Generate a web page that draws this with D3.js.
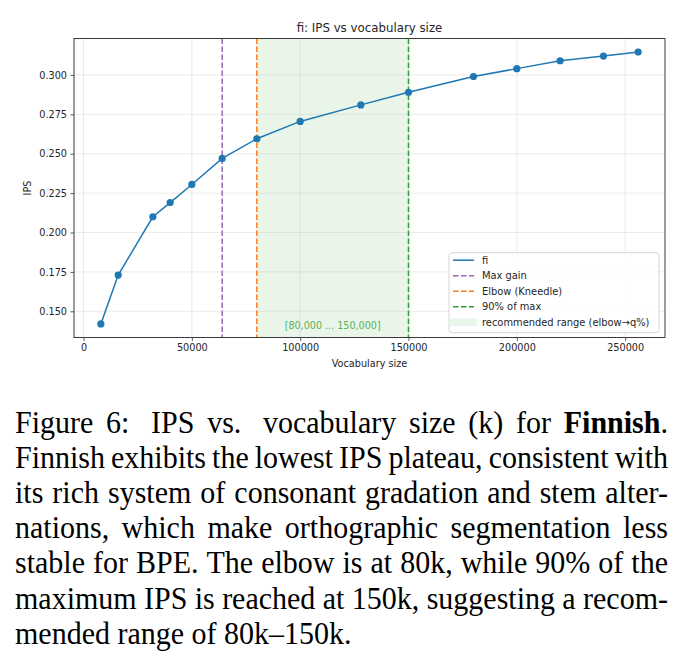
<!DOCTYPE html>
<html>
<head>
<meta charset="utf-8">
<script src="https://cdn.jsdelivr.net/npm/d3@7"></script>
<style>
  body { margin: 0; background: #fff; }
  svg { display: block; }
</style>
</head>
<body>
<div id="chart"></div>
<script>
// data
var vocab = [8000, 16000, 32000, 40000, 50000, 64000, 80000, 100000, 128000, 150000, 180000, 200000, 220000, 240000, 256000];
var ips = [0.142, 0.173, 0.210, 0.219, 0.2305, 0.247, 0.2595, 0.2705, 0.281, 0.289, 0.299, 0.304, 0.309, 0.312, 0.3145];
var xTicks = [0, 50000, 100000, 150000, 200000, 250000];
var yTicks = [0.150, 0.175, 0.200, 0.225, 0.250, 0.275, 0.300];
var maxGain = 64000, elbow = 80000, q90 = 150000;
var rangeLabel = "[80,000 ... 150,000]";
var legendLabels = ["fi", "Max gain", "Elbow (Kneedle)", "90% of max", "recommended range (elbow\u2192q%)"];
var caption = [
    "Figure 6:  IPS vs.  vocabulary size (k) for **Finnish**.",
    "Finnish exhibits the lowest IPS plateau, consistent with",
    "its rich system of consonant gradation and stem alter-",
    "nations, which make orthographic segmentation less",
    "stable for BPE. The elbow is at 80k, while 90% of the",
    "maximum IPS is reached at 150k, suggesting a recom-",
    "mended range of 80k\u2013150k."
];

var W = 691, H = 670;
var plot = { left: 74, right: 665, top: 38.5, bottom: 337.5 };

var svg = d3.select("#chart")
    .append("svg")
    .attr("width", W)
    .attr("height", H);

var sans = "'DejaVu Sans', sans-serif";

// scales with matplotlib-like 5% margins
var xPad = (d3.max(vocab) - d3.min(vocab)) * 0.05;
var yPad = (d3.max(ips) - d3.min(ips)) * 0.05;
var x = d3.scaleLinear()
    .domain([d3.min(vocab) - xPad, d3.max(vocab) + xPad])
    .range([plot.left, plot.right]);
var y = d3.scaleLinear()
    .domain([d3.min(ips) - yPad, d3.max(ips) + yPad])
    .range([plot.bottom, plot.top]);

// recommended span
svg.append("rect")
    .attr("x", x(elbow))
    .attr("y", plot.top)
    .attr("width", x(q90) - x(elbow))
    .attr("height", plot.bottom - plot.top)
    .attr("fill", "#2ca02c")
    .attr("fill-opacity", 0.1);

// grid
var grid = svg.append("g").attr("stroke", "#b0b0b0").attr("stroke-opacity", 0.3).attr("stroke-width", 0.8);
grid.selectAll("line.gx")
    .data(xTicks)
    .enter()
    .append("line")
    .attr("x1", function(d) { return x(d); })
    .attr("x2", function(d) { return x(d); })
    .attr("y1", plot.top)
    .attr("y2", plot.bottom);
grid.selectAll("line.gy")
    .data(yTicks)
    .enter()
    .append("line")
    .attr("x1", plot.left)
    .attr("x2", plot.right)
    .attr("y1", function(d) { return y(d); })
    .attr("y2", function(d) { return y(d); });

// vertical markers
var vlines = [
    { v: maxGain, c: "#9467bd" },
    { v: elbow, c: "#ff7f0e" },
    { v: q90, c: "#2ca02c" }
];
svg.selectAll("line.vl")
    .data(vlines)
    .enter()
    .append("line")
    .attr("x1", function(d) { return x(d.v); })
    .attr("x2", function(d) { return x(d.v); })
    .attr("y1", plot.top)
    .attr("y2", plot.bottom)
    .attr("stroke", function(d) { return d.c; })
    .attr("stroke-width", 1.5)
    .attr("stroke-dasharray", "5.5,2.5");

// range label
svg.append("text")
    .attr("x", x((elbow + q90) / 2))
    .attr("y", y(0.1387))
    .attr("text-anchor", "middle")
    .attr("font-family", sans)
    .attr("font-size", 9.6)
    .attr("fill", "#2ca02c")
    .attr("fill-opacity", 0.8)
    .text(rangeLabel);

// series
var pts = vocab.map(function(v, i) { return [v, ips[i]]; });
svg.append("path")
    .datum(pts)
    .attr("fill", "none")
    .attr("stroke", "#1f77b4")
    .attr("stroke-width", 1.5)
    .attr("d", d3.line()
        .x(function(d) { return x(d[0]); })
        .y(function(d) { return y(d[1]); }));
svg.selectAll("circle.pt")
    .data(pts)
    .enter()
    .append("circle")
    .attr("cx", function(d) { return x(d[0]); })
    .attr("cy", function(d) { return y(d[1]); })
    .attr("r", 3.6)
    .attr("fill", "#1f77b4");

// axes
var xAxis = svg.append("g")
    .attr("transform", "translate(0," + plot.bottom + ")")
    .call(d3.axisBottom(x).tickValues(xTicks).tickFormat(d3.format("d")).tickSize(3.5).tickPadding(3.5));
var yAxis = svg.append("g")
    .attr("transform", "translate(" + plot.left + ",0)")
    .call(d3.axisLeft(y).tickValues(yTicks).tickFormat(d3.format(".3f")).tickSize(3.5).tickPadding(3.5));
[xAxis, yAxis].forEach(function(a) {
    a.select(".domain").remove();
    a.selectAll("line").attr("stroke", "#333").attr("stroke-width", 0.8);
    a.selectAll("text").attr("font-family", sans).attr("font-size", 9.7).attr("fill", "#262626");
});

// spines
svg.append("rect")
    .attr("x", plot.left)
    .attr("y", plot.top)
    .attr("width", plot.right - plot.left)
    .attr("height", plot.bottom - plot.top)
    .attr("fill", "none")
    .attr("stroke", "#3a3a3a")
    .attr("stroke-width", 1);

// titles
svg.append("text")
    .attr("x", (plot.left + plot.right) / 2)
    .attr("y", 32)
    .attr("text-anchor", "middle")
    .attr("font-family", sans)
    .attr("font-size", 11.8)
    .attr("fill", "#262626")
    .text("fi: IPS vs vocabulary size");
svg.append("text")
    .attr("x", (plot.left + plot.right) / 2)
    .attr("y", 367)
    .attr("text-anchor", "middle")
    .attr("font-family", sans)
    .attr("font-size", 9.7)
    .attr("fill", "#262626")
    .text("Vocabulary size");
svg.append("text")
    .attr("transform", "translate(31," + (plot.top + plot.bottom) / 2 + ") rotate(-90)")
    .attr("text-anchor", "middle")
    .attr("font-family", sans)
    .attr("font-size", 9.7)
    .attr("fill", "#262626")
    .text("IPS");

// legend
var leg = svg.append("g").attr("transform", "translate(449,252.7)");
leg.append("rect")
    .attr("width", 210)
    .attr("height", 80)
    .attr("rx", 3)
    .attr("fill", "#fff")
    .attr("fill-opacity", 0.8)
    .attr("stroke", "#cccccc")
    .attr("stroke-width", 0.8);
var legColors = ["#1f77b4", "#9467bd", "#ff7f0e", "#2ca02c", "#2ca02c"];
legendLabels.forEach(function(lab, i) {
    var cy = 7.5 + i * 15.5;
    if (i === 0) {
        leg.append("line").attr("x1", 4).attr("x2", 25).attr("y1", cy).attr("y2", cy)
            .attr("stroke", legColors[i]).attr("stroke-width", 1.5);
    } else if (i < 4) {
        leg.append("line").attr("x1", 4).attr("x2", 25).attr("y1", cy).attr("y2", cy)
            .attr("stroke", legColors[i]).attr("stroke-width", 1.5).attr("stroke-dasharray", "5.5,2.5");
    } else {
        leg.append("rect").attr("x", 1).attr("y", cy - 3.7).attr("width", 27).attr("height", 7.4)
            .attr("fill", legColors[i]).attr("fill-opacity", 0.1);
    }
    leg.append("text")
        .attr("x", 33)
        .attr("y", cy + 3.6)
        .attr("font-family", sans)
        .attr("font-size", 9.9)
        .attr("fill", "#262626")
        .text(lab);
});

// caption, justified like the LaTeX source
var capLeft = 15, capRight = 668, capBase = 432.5, capStep = 35.2, capSize = 30;
var serif = "'Liberation Serif', 'Times New Roman', serif";
caption.forEach(function(line, li) {
    var parts = line.split(" ");
    var words = [], gaps = [], wide = false;
    parts.forEach(function(p) {
        if (p === "") { wide = true; return; }
        if (words.length) gaps.push(wide ? 1.7 : 1);
        wide = false;
        words.push(p);
    });
    var base = capBase + li * capStep;
    var row = svg.append("g")
        .attr("transform", "translate(0," + base + ") scale(1,1.08)");
    var nodes = words.map(function(w) {
        var t = row.append("text")
            .attr("y", 0)
            .attr("font-family", serif)
            .attr("font-size", capSize)
            .attr("fill", "#000");
        w.split("**").forEach(function(seg, si) {
            if (seg === "") return;
            t.append("tspan").attr("font-weight", si % 2 ? "bold" : "normal").text(seg);
        });
        return t;
    });
    var widths = nodes.map(function(n) { return n.node().getComputedTextLength(); });
    var total = d3.sum(widths);
    var gw = d3.sum(gaps);
    var unit = capSize * 0.25;
    if (li < caption.length - 1) unit = (capRight - capLeft - total) / gw;
    var cx = capLeft;
    nodes.forEach(function(n, i) {
        n.attr("x", cx);
        cx += widths[i] + (i < gaps.length ? gaps[i] * unit : 0);
    });
});
</script>
</body>
</html>
